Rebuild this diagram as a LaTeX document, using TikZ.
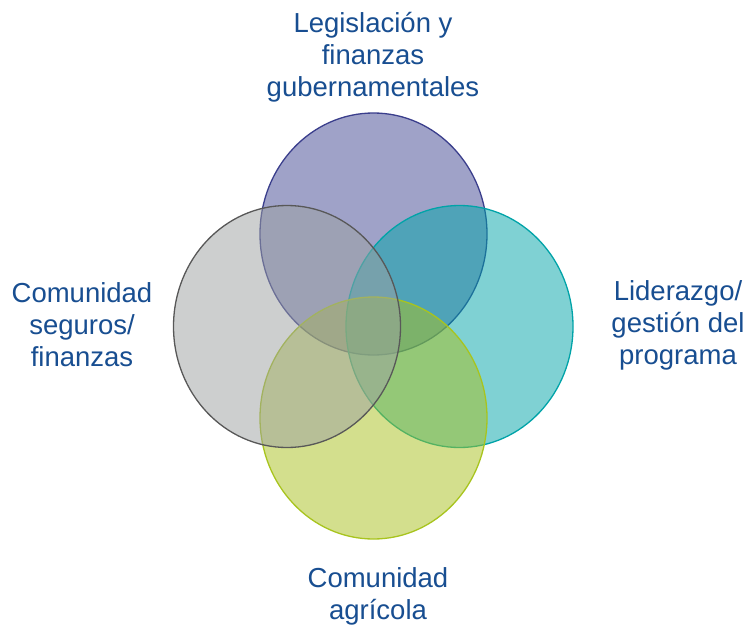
\documentclass[tikz,border=0pt]{standalone}
\usepackage{fontspec}
\setmainfont{Liberation Sans}
\usetikzlibrary{shapes.geometric}
\definecolor{txt}{RGB}{24,78,145}
\definecolor{cpurple}{RGB}{65,71,147}
\definecolor{cteal}{RGB}{0,165,169}
\definecolor{cyellow}{RGB}{169,193,29}
\definecolor{cgray}{RGB}{157,161,161}
\definecolor{bpurple}{RGB}{58,62,140}
\definecolor{bteal}{RGB}{0,163,168}
\definecolor{byellow}{RGB}{168,196,30}
\definecolor{bgray}{RGB}{88,88,88}
\begin{document}
\begin{tikzpicture}[x=1pt,y=-1pt,
  venn/.style={ellipse, minimum width=227pt, minimum height=242pt, inner sep=0pt, outer sep=0pt, fill opacity=0.5, line width=1.3pt},
  lbl/.style={text=txt, align=center, font=\fontsize{27.5}{32}\selectfont, inner sep=0pt}]
\useasboundingbox[fill=white] (0,0) rectangle (747,629);
\node[venn, fill=cpurple, draw=bpurple] (gov) at (373.5,234) {};
\node[venn, fill=cteal, draw=bteal] (lead) at (459.5,326.5) {};
\node[venn, fill=cyellow, draw=byellow] (agri) at (373.5,418) {};
\node[venn, fill=cgray, draw=bgray] (ins) at (287,326.5) {};
\node[lbl] (tgov) at (373,57) {Legislación y\\finanzas\\gubernamentales};
\node[lbl] (tlead) at (678,325) {Liderazgo/\\gestión del\\programa};
\node[lbl] (tins) at (82,325) {Comunidad\\seguros/\\finanzas};
\node[lbl] (tagri) at (378,596) {Comunidad\\agrícola};
\end{tikzpicture}
\end{document}
